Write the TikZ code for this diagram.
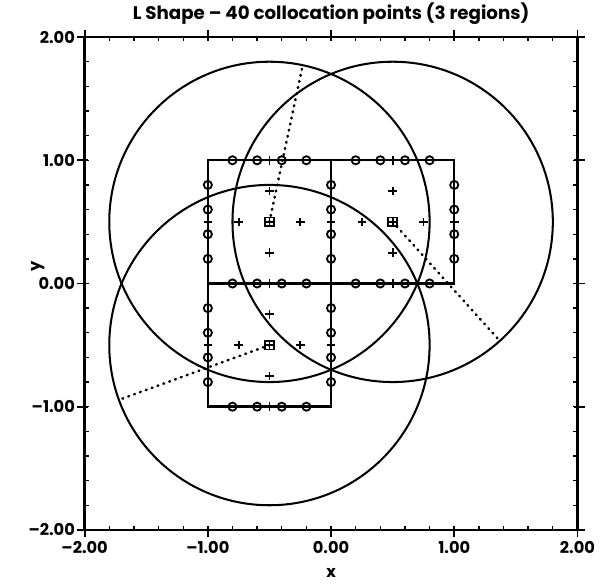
\documentclass[tikz,border=0pt]{standalone}
\usepackage{fontspec}
\setmainfont{Poppins}
\usetikzlibrary{positioning}
\tikzset{
  region/.style={line width=1.8pt},
  coverc/.style={line width=1.5pt},
  radline/.style={line width=1.9pt,dash pattern=on 0.6pt off 4pt,line cap=round},
  colpt/.style={line width=1.35pt},
  plusmk/.style={line width=1.35pt},
  ctrmk/.style={draw,line width=1.4pt,minimum size=0.23cm,inner sep=0pt},
  plotlab/.style={font=\bfseries\fontsize{12}{14}\selectfont,inner sep=0pt},
}

\begin{document}
\begin{tikzpicture}[x=3.2cm,y=3.2cm]
\useasboundingbox (-2.687,-2.447) rectangle (2.183,2.301);
% Frame with ticks
\draw[line width=1.7pt] (-2,-2) rectangle (2,2);
\foreach \i in {-9,...,9} {
  \draw[line width=1pt] (\i/5,-2) -- ++(0,0.035);
  \draw[line width=1pt] (\i/5,2) -- ++(0,-0.035);
  \draw[line width=1pt] (-2,\i/5) -- ++(0.035,0);
  \draw[line width=1pt] (2,\i/5) -- ++(-0.035,0);
}
\foreach \v in {-2,-1,0,1,2} {
  \draw[line width=1.3pt] (\v,-2.06) -- (\v,-1.97);
  \draw[line width=1.3pt] (\v,1.97) -- (\v,2.06);
  \draw[line width=1.3pt] (-2.06,\v) -- (-1.97,\v);
  \draw[line width=1.3pt] (1.97,\v) -- (2.06,\v);
}
% Tick labels
\foreach \v/\t in {-2/–2.00,-1/–1.00,0/0.00,1/1.00,2/2.00} {
  \node[plotlab] (xl\v) at (\v,-2.146) {\t};
  \node[plotlab,anchor=east] (yl\v) at (-2.077,\v) {\t};
}
\node[plotlab,font=\bfseries\fontsize{13.5}{15}\selectfont] (title) at (0,2.19) {L Shape – 40 collocation points (3 regions)};
\node[plotlab] (xlab) at (0,-2.35) {x};
\node[plotlab,rotate=90] (ylab) at (-2.38,0.138) {y};
% Regions of the L
\draw[region] (-1,-1) rectangle (0,0) (-1,0) rectangle (0,1) (0,0) rectangle (1,1);
\coordinate (cA) at (-0.5,0.5);
\coordinate (cB) at (0.5,0.5);
\coordinate (cC) at (-0.5,-0.5);
% Covering circles and radii
\draw[coverc] (cA) circle (1.3);
\draw[coverc] (cB) circle (1.3);
\draw[coverc] (cC) circle (1.3);
\draw[radline] (cA) -- ++(78:1.3);
\draw[radline] (cB) -- ++(-48:1.3);
\draw[radline] (cC) -- ++(200:1.3);
% Collocation points
\foreach \s in {-0.8,-0.6,-0.4,-0.2,0.2,0.4,0.6,0.8} {
  \draw[colpt] (\s,1) circle (0.033);
  \draw[colpt] (\s,0) circle (0.033);
  \draw[colpt] (-1,\s) circle (0.033);
  \draw[colpt] (0,\s) circle (0.033);
}
\foreach \s in {0.2,0.4,0.6,0.8} {
  \draw[colpt] (-\s,-1) circle (0.033);
  \draw[colpt] (1,\s) circle (0.033);
}
% Edge midpoints
\foreach \p in {(-0.5,1),(0.5,1),(-0.5,0),(0.5,0),(-0.5,-1),(-1,0.5),(-1,-0.5),(0,0.5),(0,-0.5),(1,0.5)}
  \draw[plusmk] \p ++(-0.035,0) -- ++(0.07,0) ++(-0.035,-0.035) -- ++(0,0.07);
% Region centres
\foreach \c in {cA,cB,cC} {
  \node[ctrmk] (m\c) at (\c) {};
  \draw[plusmk] (\c) ++(-0.036,0) -- ++(0.072,0) ++(-0.036,-0.036) -- ++(0,0.072);
  \foreach \d in {0,90,180,270}
    \draw[plusmk] (\c) ++(\d:0.25) ++(-0.035,0) -- ++(0.07,0) ++(-0.035,-0.035) -- ++(0,0.07);
}
\end{tikzpicture}
\end{document}
